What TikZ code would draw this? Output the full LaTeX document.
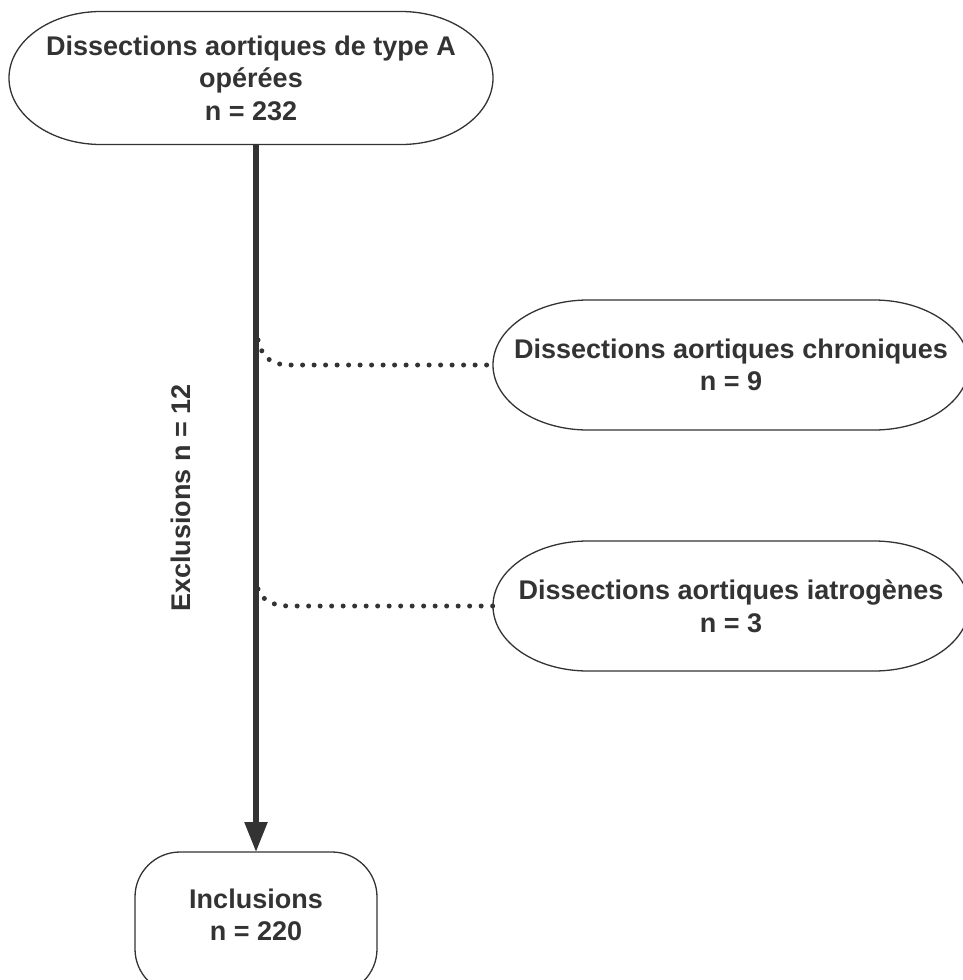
\documentclass[tikz,border=0pt]{standalone}
\usepackage{fontspec}
\setmainfont{Liberation Sans}
\usetikzlibrary{positioning, arrows.meta}

\definecolor{inkgray}{HTML}{333333}

\tikzset{
	stepbox/.style={draw=none, outer sep=0pt, align=center, text=inkgray,
		font=\fontsize{27}{32.5}\selectfont\bfseries},
	boxline/.style={draw=inkgray, line width=1.3pt},
	mainflow/.style={draw=inkgray, line width=5.5pt,
		-{Triangle[length=30pt,width=22pt]}},
	exclink/.style={draw=inkgray, line width=5pt, line cap=round,
		dash pattern=on 0pt off 11.5pt}
}
% outline with half-elliptic ends: node, x radius, y radius
\newcommand{\stadiumline}[3]{%
	\draw[boxline] ([xshift=#2]#1.north west) -- ([xshift=-#2]#1.north east)
		arc[start angle=90, end angle=-90, x radius=#2, y radius=#3]
		-- ([xshift=#2]#1.south west)
		arc[start angle=270, end angle=90, x radius=#2, y radius=#3] -- cycle;}

\begin{document}
\begin{tikzpicture}[x=1pt, y=-1pt]
	\path[use as bounding box, clip] (0,0) rectangle (963,980);
	%Main flow
	\node[stepbox, minimum width=484pt, minimum height=133pt] (top) at (251,78)
		{Dissections aortiques de type A\\op\'er\'ees\\n = 232};
	\stadiumline{top}{92pt}{66.5pt}
	\node[stepbox, minimum width=242pt, minimum height=126pt] (incl) at (256,915)
		{Inclusions\\n = 220};
	\draw[boxline, rounded corners=45pt] (incl.north west) rectangle ([yshift=-16pt]incl.south east);
	\draw[mainflow] (top.south -| incl.north) -- (incl.north);
	%Exclusions
	\node[stepbox, minimum width=476pt, minimum height=130pt] (chron) at (731,365)
		{Dissections aortiques chroniques\\n = 9};
	\stadiumline{chron}{95pt}{65pt}
	\node[stepbox, minimum width=476pt, minimum height=130pt] (iatro) at (731,606)
		{Dissections aortiques iatrog\`enes\\n = 3};
	\stadiumline{iatro}{95pt}{65pt}
	\node[rotate=90, text=inkgray, font=\fontsize{27}{32}\selectfont\bfseries]
		(exlabel) at (181,498) {Exclusions n = 12};
	%Dotted branches leaving the main line
	\coordinate (ex1) at (258,340);
	\coordinate (ex2) at (258,589);
	\draw[exclink] (ex1) .. controls (262,358) and (272,365) .. (290,365) -- (chron.west);
	\draw[exclink] (ex2) .. controls (262,600) and (272,606) .. (290,606) -- (iatro.west);
\end{tikzpicture}
\end{document}
